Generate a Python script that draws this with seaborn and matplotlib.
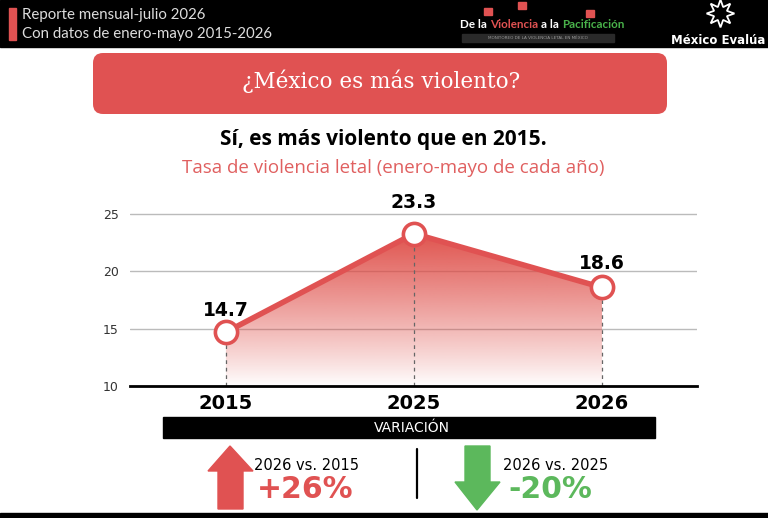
import numpy as np
import matplotlib
matplotlib.use("Agg")
import matplotlib.pyplot as plt
import seaborn as sns
from matplotlib.patches import Rectangle, FancyBboxPatch, Polygon

# ---- data ----
years = ["2015", "2025", "2026"]
rates = [14.7, 23.3, 18.6]
y_ticks = [10, 15, 20, 25]
var_labels = ["2026 vs. 2015", "2026 vs. 2025"]
var_values = ["+26%", "-20%"]

RED = "#E05252"
GREEN = "#5CB85C"

sns.set_theme(style="white")
plt.rcParams["font.family"] = ["DejaVu Sans"]

W, H = 768, 518
fig = plt.figure(figsize=(W / 100, H / 100), dpi=100)
fig.patch.set_facecolor("white")

# background / decoration axes in pixel coords
bg = fig.add_axes([0, 0, 1, 1], zorder=0)
bg.set_xlim(0, W)
bg.set_ylim(H, 0)
bg.axis("off")

# header band
bg.add_patch(Rectangle((0, 0), W, 47, color="black"))
bg.add_patch(Rectangle((9, 8), 7, 32, color=RED))
hdr_font = ["Liberation Sans Narrow", "Lato", "DejaVu Sans"]
bg.text(22, 15, "Reporte mensual-julio 2026", color="#dddddd", fontsize=10.8,
        family=hdr_font, va="center", ha="left")
bg.text(22, 34, "Con datos de enero-mayo 2015-2026", color="#dddddd", fontsize=10.8,
        family=hdr_font, va="center", ha="left")
# logo text, pieces chained with a small gap
renderer = fig.canvas.get_renderer()
xx = 460
for txt, col in [("De la", "white"), ("Violencia", RED), ("a la", "white"),
                 ("Pacificación", "#49b24a")]:
    t = bg.text(xx, 24, txt, color=col, fontsize=8.4, fontweight="bold", family=hdr_font,
                va="center", ha="left")
    bb = t.get_window_extent(renderer)
    xx += bb.width + 3
bg.add_patch(Rectangle((462, 34), 152, 8, color="#2a2a2a"))
bg.text(538, 38, "MONITOREO DE LA VIOLENCIA LETAL EN MÉXICO", color="#999999",
        fontsize=3, va="center", ha="center")
for px, py in [(488, 12), (522, 6), (590, 14)]:
    bg.add_patch(Rectangle((px - 4, py - 4), 8, 7, color=RED))
bg.plot([720], [13], marker=(8, 1, 0), markersize=20, markerfacecolor="none",
        markeredgecolor="white", markeredgewidth=1.3)
bg.text(718, 41, "México Evalúa", color="white", fontsize=8.5, fontweight="bold",
        ha="center", va="center")

# title box
bg.add_patch(FancyBboxPatch((93, 53), 574, 61, boxstyle="round,pad=0,rounding_size=10",
                            facecolor=RED, edgecolor="none"))
bg.text(381, 81, "¿México es más violento?", color="white", fontsize=15.5,
        family=["DejaVu Serif"], ha="center", va="center")
bg.text(383, 140, "Sí, es más violento que en 2015.", color="black", fontsize=15,
        fontweight="bold", family=["Open Sans", "DejaVu Sans"], ha="center", va="center")
bg.text(393, 168, "Tasa de violencia letal (enero-mayo de cada año)", color="#E06060",
        fontsize=13.5, family=["Open Sans", "DejaVu Sans"], ha="center", va="center")

# variation band
bg.add_patch(Rectangle((163, 417), 492, 21, color="black"))
bg.text(412, 428, "VARIACIÓN", color="white", fontsize=10, ha="center", va="center")

# arrows
bg.add_patch(Polygon([(230, 446), (253, 471), (243, 471), (243, 509), (218, 509),
                      (218, 471), (208, 471)], closed=True, color=RED))
bg.add_patch(Polygon([(477, 510), (500, 482), (490, 482), (490, 446), (465, 446),
                      (465, 482), (455, 482)], closed=True, color=GREEN))
bg.plot([417, 417], [449, 498], color="black", lw=1.6)
bg.text(254, 465, var_labels[0], color="black", fontsize=10.5, ha="left", va="center")
bg.text(257, 489, var_values[0], color=RED, fontsize=21.5, fontweight="bold",
        ha="left", va="center")
bg.text(503, 465, var_labels[1], color="black", fontsize=10.5, ha="left", va="center")
bg.text(508, 489, var_values[1], color=GREEN, fontsize=21.5, fontweight="bold",
        ha="left", va="center")
bg.add_patch(Rectangle((0, 513), W, 5, color="black"))

# ---- main chart ----
ax = fig.add_axes([130 / W, 1 - 386 / H, 567 / W, (386 - 208.4) / H], zorder=2)
ax.patch.set_alpha(0)
pos = np.arange(len(years))
ax.set_xlim(-0.51, 2.505)
ax.set_ylim(10, 25.5)

# gradient fill
poly = ax.fill_between(pos, rates, 10, color="none", lw=0)
top = max(rates)
grad = np.linspace(0, 1, 256)
rgba = np.zeros((256, 1, 4))
rgba[:, 0, :3] = matplotlib.colors.to_rgb("#DE4A44")
rgba[:, 0, 3] = (grad ** 0.9) * 0.95
im = ax.imshow(rgba, extent=[-0.51, 2.505, 10, top], origin="lower", aspect="auto", zorder=1)
path = poly.get_paths()[0]
im.set_clip_path(path, transform=ax.transData)

for p, v in zip(pos, rates):
    ax.plot([p, p], [10, v], color="#666666", lw=0.9, ls=(0, (3, 3)), zorder=2)

sns.lineplot(x=pos, y=rates, ax=ax, color=RED, lw=4, marker="o", markersize=16,
             markerfacecolor="white", markeredgecolor=RED, markeredgewidth=2.6, zorder=4)

label_offsets = [22, 31, 24]
for p, v, off in zip(pos, rates, label_offsets):
    ax.annotate(f"{v}", (p, v), xytext=(0, off), textcoords="offset pixels",
                ha="center", va="center", fontsize=13.5, fontweight="bold", color="black")

ax.set_yticks(y_ticks)
ax.set_yticklabels([str(t) for t in y_ticks], fontsize=9, color="#333333")
ax.set_xticks(pos)
ax.set_xticklabels(years, fontsize=14, fontweight="bold", color="black")
ax.tick_params(axis="y", length=0, pad=8)
ax.tick_params(axis="x", length=0, pad=6)
ax.yaxis.grid(True, color="#bbbbbb", lw=1)
ax.set_axisbelow(True)
for s in ["left", "right", "top"]:
    ax.spines[s].set_visible(False)
ax.spines["bottom"].set_color("black")
ax.spines["bottom"].set_linewidth(2)
ax.set_xlabel("")
ax.set_ylabel("")

fig.savefig("out.png", dpi=100)
